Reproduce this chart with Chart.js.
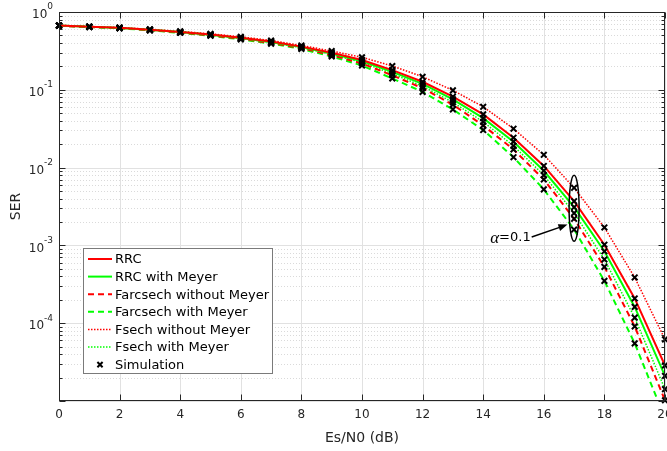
<!DOCTYPE html>
<html>
<head>
<meta charset="utf-8">
<script src="https://cdn.jsdelivr.net/npm/chart.js@4.4.0/dist/chart.umd.min.js"></script>
<style>
html,body{margin:0;padding:0;background:#fff;}
</style>
</head>
<body>
<canvas id="myChart" width="667" height="451"></canvas>
<script>
// data
const snr = [0,1,2,3,4,5,6,7,8,9,10,11,12,13,14,15,16,17,18,19,20];
const rrc = [0.671,0.648,0.627,0.593,0.555,0.515,0.468,0.417,0.359,0.2985,0.2416,0.179,0.1268,0.0815,0.0483,0.0242,0.0105,0.0037,0.00102,0.000208,0.0000286];
const rrcMeyer = [0.669,0.646,0.625,0.590,0.552,0.510,0.463,0.411,0.354,0.292,0.2334,0.170,0.119,0.0754,0.0432,0.0215,0.0091,0.0031,0.00084,0.000162,0.000021];
const farcsech = [0.666,0.642,0.621,0.585,0.545,0.502,0.453,0.400,0.344,0.279,0.218,0.1535,0.105,0.0643,0.0348,0.0171,0.00705,0.0022,0.00053,0.000091,0.0000102];
const farcsechMeyer = [0.664,0.640,0.618,0.580,0.540,0.495,0.445,0.392,0.335,0.268,0.205,0.140,0.094,0.056,0.0304,0.0136,0.00525,0.0016,0.00035,0.000055,0.000006];
const fsech = [0.675,0.652,0.632,0.600,0.563,0.525,0.480,0.430,0.372,0.315,0.262,0.202,0.147,0.0984,0.0605,0.0316,0.0146,0.0055,0.0017,0.000387,0.000062];
const fsechMeyer = [0.668,0.644,0.623,0.587,0.548,0.506,0.458,0.405,0.348,0.285,0.225,0.161,0.1114,0.069,0.0388,0.019,0.0080,0.0026,0.00066,0.000118,0.0000142];
const xTicks = [0,2,4,6,8,10,12,14,16,18,20];
const yExps = [0,-1,-2,-3,-4,-5];

const RED = 'rgb(255,0,0)';
const GREEN = 'rgb(0,255,0)';
const TXT = '#262626';
const FONT = 'DejaVu Sans';

function pts(arr){ return snr.map((s,i) => ({x:s, y:arr[i]})); }

// all simulation marks from every curve
let simPts = [];
[rrc, rrcMeyer, farcsech, farcsechMeyer, fsech, fsechMeyer].forEach(arr => {
  arr.forEach((v,i) => simPts.push({x:snr[i], y:v}));
});

function lineSet(label, arr, color, dash, width){
  return {label:label, data:pts(arr), borderColor:color, backgroundColor:color,
    borderWidth:width, borderDash:dash, pointRadius:0, fill:false, tension:0, order:1};
}

// axes, grid, legend and annotation drawn MATLAB style
const matlabAxes = {
  id:'matlabAxes',
  beforeDatasetsDraw(chart){
    const {ctx, chartArea:a, scales:{x, y}} = chart;
    ctx.save();
    ctx.lineWidth = 1;
    // minor y grid
    ctx.strokeStyle = '#dadada';
    ctx.setLineDash([1,2]);
    for (let e=-5; e<0; e++){
      for (let m=2; m<10; m++){
        const py = Math.round(y.getPixelForValue(m*Math.pow(10,e))) + 0.5;
        ctx.beginPath(); ctx.moveTo(a.left, py); ctx.lineTo(a.right, py); ctx.stroke();
      }
    }
    ctx.setLineDash([]);
    ctx.strokeStyle = '#e1e1e1';
    yExps.forEach(e => {
      const py = Math.round(y.getPixelForValue(Math.pow(10,e))) + 0.5;
      ctx.beginPath(); ctx.moveTo(a.left, py); ctx.lineTo(a.right, py); ctx.stroke();
    });
    xTicks.forEach(v => {
      const px = Math.round(x.getPixelForValue(v)) + 0.5;
      ctx.beginPath(); ctx.moveTo(px, a.top); ctx.lineTo(px, a.bottom); ctx.stroke();
    });
    ctx.restore();
  },
  afterDatasetsDraw(chart){
    const {ctx, chartArea:a, scales:{x, y}} = chart;
    ctx.save();
    // alpha annotation
    ctx.strokeStyle = '#000'; ctx.fillStyle = '#000'; ctx.lineWidth = 1.5;
    const cx = x.getPixelForValue(17);
    const yt = y.getPixelForValue(8.0e-3), yb = y.getPixelForValue(1.13e-3);
    ctx.beginPath(); ctx.ellipse(cx, (yt+yb)/2, 5, (yb-yt)/2, 0, 0, 2*Math.PI); ctx.stroke();
    const x0 = x.getPixelForValue(15.6), y0 = y.getPixelForValue(1.28e-3);
    const x1 = x.getPixelForValue(16.78), y1 = y.getPixelForValue(1.85e-3);
    const ang = Math.atan2(y1-y0, x1-x0);
    ctx.beginPath(); ctx.moveTo(x0, y0); ctx.lineTo(x1 - 6*Math.cos(ang), y1 - 6*Math.sin(ang)); ctx.stroke();
    ctx.beginPath();
    ctx.moveTo(x1, y1);
    ctx.lineTo(x1 - 9*Math.cos(ang) + 3.5*Math.sin(ang), y1 - 9*Math.sin(ang) - 3.5*Math.cos(ang));
    ctx.lineTo(x1 - 9*Math.cos(ang) - 3.5*Math.sin(ang), y1 - 9*Math.sin(ang) + 3.5*Math.cos(ang));
    ctx.closePath(); ctx.fill();
    ctx.textBaseline = 'middle';
    ctx.font = '13px "' + FONT + '"';
    const w2 = ctx.measureText('=0.1').width;
    ctx.font = 'italic 17px "Liberation Serif"';
    const w1 = ctx.measureText('\u03b1').width;
    const tx = x0 - 1 - w1 - w2;
    ctx.textAlign = 'left';
    ctx.fillText('\u03b1', tx, y0 + 1);
    ctx.font = '13px "' + FONT + '"';
    ctx.fillText('=0.1', tx + w1, y0 + 1);

    // box and inward ticks
    ctx.strokeStyle = TXT; ctx.lineWidth = 1;
    const L = Math.round(a.left)+0.5, R = Math.round(a.right)-0.5, T = Math.round(a.top)+0.5, B = Math.round(a.bottom)-0.5;
    ctx.strokeRect(L, T, R-L, B-T);
    ctx.beginPath();
    xTicks.forEach(v => {
      const px = Math.round(x.getPixelForValue(v)) + 0.5;
      ctx.moveTo(px, B); ctx.lineTo(px, B-6);
      ctx.moveTo(px, T); ctx.lineTo(px, T+6);
    });
    for (let e=-5; e<=0; e++){
      const py = Math.round(y.getPixelForValue(Math.pow(10,e))) + 0.5;
      ctx.moveTo(L, py); ctx.lineTo(L+6, py);
      ctx.moveTo(R, py); ctx.lineTo(R-6, py);
      if (e < 0){
        for (let m=2; m<10; m++){
          const q = Math.round(y.getPixelForValue(m*Math.pow(10,e))) + 0.5;
          ctx.moveTo(L, q); ctx.lineTo(L+3, q);
          ctx.moveTo(R, q); ctx.lineTo(R-3, q);
        }
      }
    }
    ctx.stroke();
    ctx.restore();
  },
  afterDraw(chart){
    const {ctx, chartArea:a, scales:{x, y}} = chart;
    ctx.save();
    ctx.fillStyle = TXT;
    ctx.textBaseline = 'middle';
    // x tick labels
    ctx.textAlign = 'center';
    ctx.font = '12px "' + FONT + '"';
    xTicks.forEach(v => {
      ctx.fillText(String(v), x.getPixelForValue(v), a.bottom + 14);
    });
    // y tick labels with superscripts
    ctx.textAlign = 'right';
    yExps.forEach(e => {
      if (e < -4) return;
      const py = y.getPixelForValue(Math.pow(10,e));
      const sup = String(e);
      ctx.font = '9px "' + FONT + '"';
      const sw = ctx.measureText(sup).width;
      ctx.fillText(sup, 53, py - 5);
      ctx.font = '12px "' + FONT + '"';
      ctx.fillText('10', 53 - sw, py + 3);
    });

    // legend in the lower left of the plot
    const ds = chart.data.datasets;
    const lx = a.left + 24, lw = 189, lh = 125;
    const ly = a.bottom - 28 - lh;
    ctx.fillStyle = '#fff';
    ctx.fillRect(lx, ly, lw, lh);
    ctx.strokeStyle = '#7a7a7a'; ctx.lineWidth = 1;
    ctx.strokeRect(lx + 0.5, ly + 0.5, lw, lh);
    ctx.font = '13px "' + FONT + '"';
    ctx.textAlign = 'left';
    ds.forEach((d, i) => {
      const ry = ly + 11 + i*17.6;
      if (d.showLine === false){
        const c = lx + 17, r = 2.6;
        ctx.strokeStyle = '#000'; ctx.lineWidth = 2; ctx.setLineDash([]);
        ctx.beginPath();
        ctx.moveTo(c-r, ry-r); ctx.lineTo(c+r, ry+r);
        ctx.moveTo(c-r, ry+r); ctx.lineTo(c+r, ry-r);
        ctx.stroke();
      } else {
        ctx.strokeStyle = d.borderColor; ctx.lineWidth = d.borderWidth;
        ctx.setLineDash(d.borderDash);
        ctx.beginPath(); ctx.moveTo(lx + 5, ry); ctx.lineTo(lx + 29, ry); ctx.stroke();
      }
      ctx.setLineDash([]);
      ctx.fillStyle = '#000';
      ctx.fillText(d.label, lx + 32, ry + 1);
    });
    ctx.restore();
  }
};

const ThisChart = document.getElementById('myChart');
const chart = new Chart(ThisChart, {
  type:'line',
  data:{
    datasets:[
      lineSet('RRC', rrc, RED, [], 2),
      lineSet('RRC with Meyer', rrcMeyer, GREEN, [], 2),
      lineSet('Farcsech without Meyer', farcsech, RED, [6,4], 2),
      lineSet('Farcsech with Meyer', farcsechMeyer, GREEN, [6,4], 2),
      lineSet('Fsech without Meyer', fsech, RED, [1.5,1.5], 1.5),
      lineSet('Fsech with Meyer', fsechMeyer, GREEN, [1.5,1.5], 1.5),
      {label:'Simulation', data:simPts, showLine:false, pointStyle:'crossRot',
       pointRadius:4, pointBorderWidth:2, pointBorderColor:'#000', pointBackgroundColor:'#000',
       borderColor:'#000', order:0, clip:6}
    ]
  },
  options:{
    responsive:false,
    animation:false,
    events:[],
    layout:{autoPadding:false, padding:{left:0, right:2, top:12, bottom:0}},
    plugins:{legend:{display:false}, tooltip:{enabled:false}},
    scales:{
      x:{
        type:'linear', min:0, max:20,
        grid:{display:false, drawTicks:false},
        border:{display:false},
        afterBuildTicks: s => { s.ticks = xTicks.map(v => ({value:v})); },
        ticks:{display:false},
        title:{display:true, text:'Es/N0 (dB)', font:{family:FONT, size:14}, color:TXT, padding:{top:0, bottom:4}},
        afterFit: s => { s.height = 50; s.paddingLeft = 0; s.paddingRight = 0; }
      },
      y:{
        type:'logarithmic', min:1e-5, max:1,
        grid:{display:false, drawTicks:false},
        border:{display:false},
        afterBuildTicks: s => { s.ticks = yExps.map(e => ({value:Math.pow(10,e)})); },
        ticks:{display:false},
        title:{display:true, text:'SER', font:{family:FONT, size:14}, color:TXT, padding:{top:8, bottom:0}},
        afterFit: s => { s.width = 59; s.paddingTop = 0; s.paddingBottom = 0; }
      }
    }
  },
  plugins:[matlabAxes]
});
</script>
</body>
</html>
